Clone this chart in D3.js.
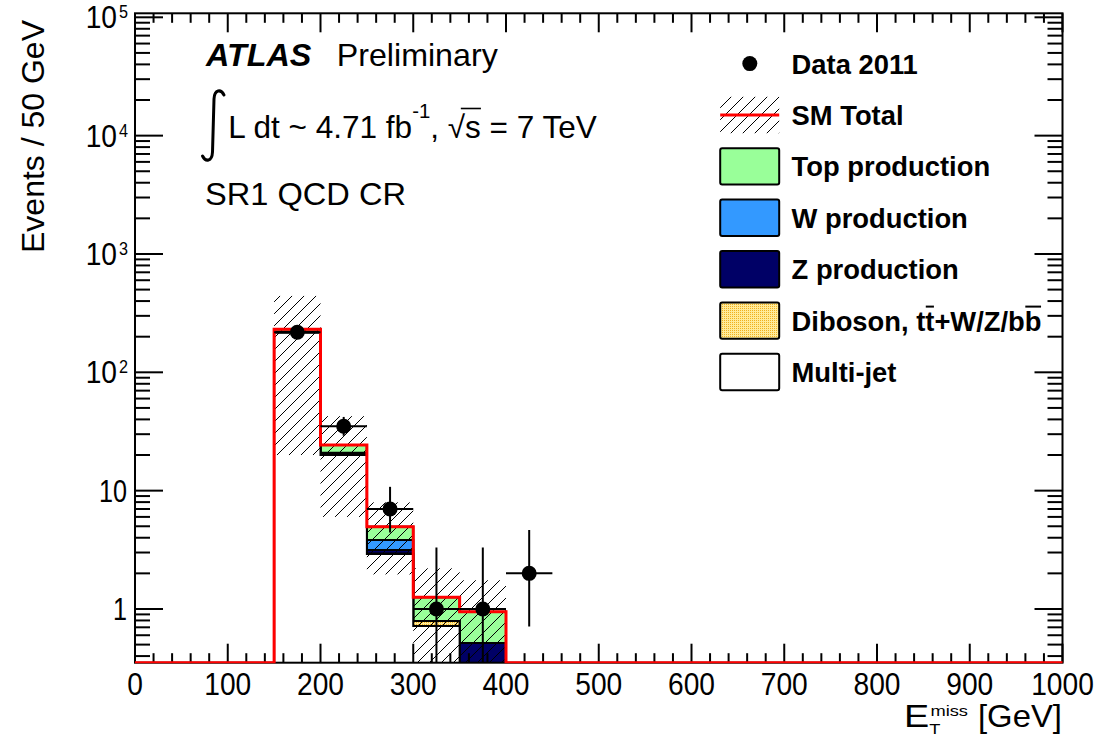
<!DOCTYPE html>
<html>
<head>
<meta charset="utf-8">
<script src="https://cdn.jsdelivr.net/npm/d3@7"></script>
<style>
  body { margin: 0; background: #fff; }
  text { font-family: "Liberation Sans", Arial, Helvetica, sans-serif; fill: #000; }
</style>
</head>
<body>
<svg id="chart" width="1101" height="738"></svg>
<script>
// ---- histogram content: 20 bins of 50 GeV from 0 to 1000 GeV ----
const binLow = [0,50,100,150,200,250,300,350,400,450,500,550,600,650,700,750,800,850,900,950];
const binWidth = 50;

// stacked backgrounds (events per bin)
const multiJet = [0,0,0,216,20.0,2.92,0.718,0,0,0,0,0,0,0,0,0,0,0,0,0];
const diboson  = [0,0,0,1.0,0.1,0.03,0.074,0,0,0,0,0,0,0,0,0,0,0,0,0];
const zProd    = [0,0,0,1.5,0.3,0.20,0,0.516,0,0,0,0,0,0,0,0,0,0,0,0];
const wProd    = [0,0,0,1.5,0.5,0.68,0,0,0,0,0,0,0,0,0,0,0,0,0,0];
const topProd  = [0,0,0,11,3.4,1.13,0.464,0.433,0,0,0,0,0,0,0,0,0,0,0,0];
// uncertainty on the SM total
const smErr    = [0,0,0,211,18.3,3.0,0.95,0.8,0,0,0,0,0,0,0,0,0,0,0,0];

// data with Poisson uncertainties
const dataCounts = [0,0,0,218,35,7,1,1,2,0,0,0,0,0,0,0,0,0,0,0];
const dataErrHi  = [0,0,0,14.8,6.97,3.77,2.30,2.30,2.64,0,0,0,0,0,0,0,0,0,0,0];
const dataErrLo  = [0,0,0,14.8,5.89,2.58,0.83,0.83,1.29,0,0,0,0,0,0,0,0,0,0,0];

// axes
const xTickValues = [0,100,200,300,400,500,600,700,800,900,1000];
const xTickLabels = ["0","100","200","300","400","500","600","700","800","900","1000"];
const yTickValues = [1,10,100,1000,10000,100000];
const yTickBase   = ["1","10","10","10","10","10"];
const yTickExp    = ["","","2","3","4","5"];

// legend
const legendLabels = ["Data 2011","SM Total","Top production","W production","Z production","Diboson, tt+W/Z/bb","Multi-jet"];

// ---- layout ----
const X0 = 135, X1 = 1062.5, YT = 13.3, YB = 662.7;
const x = d3.scaleLinear().domain([0, 1000]).range([X0, X1]);
const y = d3.scaleLog().domain([0.3516, 108100]).range([YB, YT]);

const colTop = "#99ff99", colW = "#3399ff", colZ = "#000066";

const svg = d3.select("#chart");
const defs = svg.append("defs");

const hatch = defs.append("pattern").attr("id", "hatch")
  .attr("patternUnits", "userSpaceOnUse").attr("width", 12).attr("height", 12);
hatch.append("path").attr("d", "M0,12L12,0M-3,3L3,-3M9,15L15,9")
  .attr("stroke", "#000").attr("stroke-width", 1);

const dots = defs.append("pattern").attr("id", "dots")
  .attr("patternUnits", "userSpaceOnUse").attr("width", 2).attr("height", 2);
dots.append("rect").attr("width", 2).attr("height", 2).attr("fill", "#ffeb99");
dots.append("rect").attr("width", 1).attr("height", 1).attr("fill", "#f0b020");

defs.append("clipPath").attr("id", "plotClip").append("rect")
  .attr("x", X0).attr("y", YT).attr("width", X1 - X0).attr("height", YB - YT);
defs.append("clipPath").attr("id", "lineClip").append("rect")
  .attr("x", X0 - 3).attr("y", YT).attr("width", X1 - X0 + 6).attr("height", YB - YT + 0.6);

svg.append("rect").attr("width", 1101).attr("height", 738).attr("fill", "#fff");

// ---- stacked histograms ----
const cum1 = multiJet.slice();
const cum2 = cum1.map((v, i) => v + diboson[i]);
const cum3 = cum2.map((v, i) => v + zProd[i]);
const cum4 = cum3.map((v, i) => v + wProd[i]);
const total = cum4.map((v, i) => v + topProd[i]);

function yc(v, floor) { return v > 0 ? Math.min(y(v), floor) : floor; }

function stepArea(vals) {
  const p = d3.path();
  const fl = YB + 3;
  p.moveTo(x(0), fl);
  vals.forEach((v, i) => {
    const yy = yc(v, fl);
    p.lineTo(x(binLow[i]), yy);
    p.lineTo(x(binLow[i] + binWidth), yy);
  });
  p.lineTo(x(1000), fl);
  p.closePath();
  return p.toString();
}
function stepLine(vals) {
  const p = d3.path();
  p.moveTo(x(0), yc(vals[0], YB));
  vals.forEach((v, i) => {
    const yy = yc(v, YB);
    p.lineTo(x(binLow[i]), yy);
    p.lineTo(x(binLow[i] + binWidth), yy);
  });
  return p.toString();
}

const plot = svg.append("g").attr("clip-path", "url(#plotClip)");
[[total, colTop], [cum4, colW], [cum3, colZ], [cum2, "url(#dots)"], [cum1, "#ffffff"]]
  .forEach(([vals, fill]) => {
    plot.append("path").attr("d", stepArea(vals))
      .attr("fill", fill).attr("stroke", "#000").attr("stroke-width", 2)
      .attr("stroke-linejoin", "miter");
  });

// uncertainty band
plot.selectAll("rect.band").data(binLow.map((b, i) => i).filter(i => smErr[i] > 0))
  .join("rect").attr("class", "band")
  .attr("x", i => x(binLow[i]))
  .attr("width", i => x(binLow[i] + binWidth) - x(binLow[i]))
  .attr("y", i => y(total[i] + smErr[i]))
  .attr("height", i => yc(total[i] - smErr[i], YB + 3) - y(total[i] + smErr[i]))
  .attr("fill", "url(#hatch)");

// ---- frame and ticks ----
const axes = svg.append("g").attr("stroke", "#000").attr("stroke-width", 2).attr("fill", "none");
const xMinor = d3.range(0, 1001, 20).filter(v => v % 100 !== 0);
xTickValues.forEach(v => {
  axes.append("line").attr("x1", x(v)).attr("x2", x(v)).attr("y1", YB).attr("y2", YB - 19);
  axes.append("line").attr("x1", x(v)).attr("x2", x(v)).attr("y1", YT).attr("y2", YT + 19);
});
xMinor.forEach(v => {
  axes.append("line").attr("x1", x(v)).attr("x2", x(v)).attr("y1", YB).attr("y2", YB - 9.5);
  axes.append("line").attr("x1", x(v)).attr("x2", x(v)).attr("y1", YT).attr("y2", YT + 9.5);
});
const yMinor = [];
[0.1, 1, 10, 100, 1000, 10000, 100000].forEach(d => {
  for (let k = 2; k <= 9; k++) {
    const v = k * d;
    if (v > y.domain()[0] && v < y.domain()[1]) yMinor.push(v);
  }
});
yTickValues.forEach(v => {
  axes.append("line").attr("x1", X0).attr("x2", X0 + 28).attr("y1", y(v)).attr("y2", y(v));
  axes.append("line").attr("x1", X1).attr("x2", X1 - 28).attr("y1", y(v)).attr("y2", y(v));
});
yMinor.forEach(v => {
  axes.append("line").attr("x1", X0).attr("x2", X0 + 15).attr("y1", y(v)).attr("y2", y(v));
  axes.append("line").attr("x1", X1).attr("x2", X1 - 15).attr("y1", y(v)).attr("y2", y(v));
});
axes.append("rect").attr("x", X0).attr("y", YT).attr("width", X1 - X0).attr("height", YB - YT);

// SM total line
svg.append("path").attr("d", stepLine(total)).attr("clip-path", "url(#lineClip)")
  .attr("fill", "none").attr("stroke", "#ff0000").attr("stroke-width", 3);

// ---- data ----
const dataIdx = binLow.map((b, i) => i).filter(i => dataCounts[i] > 0);
const dat = svg.append("g").attr("clip-path", "url(#plotClip)");
dataIdx.forEach(i => {
  const cx = x(binLow[i] + binWidth / 2), cy = y(dataCounts[i]);
  dat.append("line").attr("x1", x(binLow[i])).attr("x2", x(binLow[i] + binWidth))
    .attr("y1", cy).attr("y2", cy).attr("stroke", "#000").attr("stroke-width", 2);
  dat.append("line").attr("x1", cx).attr("x2", cx)
    .attr("y1", y(dataCounts[i] + dataErrHi[i]))
    .attr("y2", yc(dataCounts[i] - dataErrLo[i], YB + 3))
    .attr("stroke", "#000").attr("stroke-width", 2);
  dat.append("circle").attr("cx", cx).attr("cy", cy).attr("r", 7.5).attr("fill", "#000");
});

// ---- text helpers ----
function fitX(g, left, right) {
  const b = g.node().getBBox();
  const k = (right - left) / b.width;
  g.attr("transform", `translate(${left},0) scale(${k},1) translate(${-b.x},0)`);
  return k;
}
function widthOf(str, size, weight) {
  const t = svg.append("text").attr("font-size", size).attr("font-weight", weight || "normal").text(str);
  const w = t.node().getBBox().width;
  t.remove();
  return w;
}

// x tick labels
const sxX = 47 / widthOf("100", 32);
xTickValues.forEach((v, i) => {
  const cx = x(v);
  svg.append("text").attr("x", cx).attr("y", 695).attr("font-size", 32)
    .attr("text-anchor", "middle")
    .attr("transform", `translate(${cx},0) scale(${sxX},1) translate(${-cx},0)`)
    .text(xTickLabels[i]);
});

// y tick labels
const sxY = 28 / widthOf("10", 31);
yTickValues.forEach((v, i) => {
  const ty = y(v);
  if (yTickExp[i] === "") {
    svg.append("text").attr("x", 127).attr("y", ty + 11).attr("font-size", 31)
      .attr("text-anchor", "end")
      .attr("transform", `translate(127,0) scale(${sxY},1) translate(-127,0)`)
      .text(yTickBase[i]);
  } else {
    svg.append("text").attr("x", 117).attr("y", ty + 11).attr("font-size", 31)
      .attr("text-anchor", "end")
      .attr("transform", `translate(117,0) scale(${sxY * 1.12},1) translate(-117,0)`)
      .text(yTickBase[i]);
    svg.append("text").attr("x", 119).attr("y", ty + 1).attr("font-size", 19)
      .attr("transform", `translate(119,0) scale(${sxY * 1.05},1) translate(-119,0)`)
      .text(yTickExp[i]);
  }
});

// axis titles
const yt = svg.append("g").attr("transform", "translate(44,253) rotate(-90)");
yt.append("text").attr("x", 0).attr("y", 0).attr("font-size", 31)
  .attr("textLength", 233).attr("lengthAdjust", "spacingAndGlyphs").text("Events / 50 GeV");

let g;
// E_T^miss: E, subscript T, superscript "miss" stacked over the T
g = svg.append("g");
{
  const wT = widthOf("T", 15);
  const et = g.append("text").attr("x", 0).attr("y", 727).attr("font-size", 31);
  et.append("tspan").text("E");
  et.append("tspan").attr("font-size", 15).attr("dy", 7.5).text("T");
  et.append("tspan").attr("font-size", 15).attr("dy", -18.5).attr("dx", -wT + 1).text("miss");
}
fitX(g, 904, 968);
g = svg.append("g"); g.append("text").attr("x", 0).attr("y", 727).attr("font-size", 31).text("[GeV]"); fitX(g, 978, 1062);

// ---- labels in the upper left ----
g = svg.append("g"); g.append("text").attr("x", 0).attr("y", 66).attr("font-size", 31)
  .attr("font-weight", "bold").attr("font-style", "italic").text("ATLAS");
fitX(g, 205, 311.7);
g = svg.append("g"); g.append("text").attr("x", 0).attr("y", 66).attr("font-size", 31).text("Preliminary");
fitX(g, 336.7, 498.3);

// integral sign
svg.append("path")
  .attr("d", "M224,95 C221,89 214.5,89 214,99 L212.5,152 C212,162 205.5,162 202.5,156")
  .attr("fill", "none").attr("stroke", "#000").attr("stroke-width", 3).attr("stroke-linecap", "round");

g = svg.append("g");
const lumi = g.append("text").attr("x", 0).attr("y", 138.3).attr("font-size", 31);
lumi.append("tspan").text("L dt ~ 4.71 fb");
lumi.append("tspan").attr("font-size", 20).attr("dy", -20).text("-1");
lumi.append("tspan").attr("dy", 20).text(", \u221As = 7 TeV");
{
  const n = lumi.node();
  const full = "L dt ~ 4.71 fb-1, \u221As = 7 TeV";
  const iS = full.indexOf("\u221A") + 1;
  const xs0 = n.getStartPositionOfChar(iS - 1).x + n.getExtentOfChar(iS - 1).width * 0.75;
  const xs1 = n.getEndPositionOfChar(iS).x;
  g.append("line").attr("x1", xs0).attr("x2", xs1).attr("y1", 108.5).attr("y2", 108.5)
    .attr("stroke", "#000").attr("stroke-width", 1.6);
}
fitX(g, 228.3, 597.3);

g = svg.append("g"); g.append("text").attr("x", 0).attr("y", 205).attr("font-size", 31).text("SR1 QCD CR");
fitX(g, 205, 406);

// ---- legend ----
const LX = 720.2, LW = 59, LH = 36.4, TX = 791.6;
const rowY = i => 63.6 + 51.4 * i;
const sxL = 198.6 / widthOf("Top production", 28, "bold");

legendLabels.forEach((lab, i) => {
  const cy = rowY(i);
  const lg = svg.append("g").attr("transform", `translate(${TX},0) scale(${sxL},1) translate(${-TX},0)`);
  const t = lg.append("text").attr("x", TX).attr("y", cy + 10).attr("font-size", 28)
    .attr("font-weight", "bold").text(lab);
  if (i === 5) {
    const n = t.node();
    [10, 17].forEach(ci => {
      const a = n.getStartPositionOfChar(ci).x, b = n.getEndPositionOfChar(ci).x;
      lg.append("line").attr("x1", a + 0.5).attr("x2", b - 0.5)
        .attr("y1", cy - 14).attr("y2", cy - 14).attr("stroke", "#000").attr("stroke-width", 2);
    });
  }
});
// markers / swatches
svg.append("circle").attr("cx", 749.8).attr("cy", rowY(0)).attr("r", 7.5).attr("fill", "#000");
svg.append("rect").attr("x", LX).attr("y", rowY(1) - LH / 2).attr("width", LW).attr("height", LH)
  .attr("fill", "url(#hatch)");
svg.append("line").attr("x1", LX).attr("x2", LX + LW).attr("y1", rowY(1)).attr("y2", rowY(1))
  .attr("stroke", "#ff0000").attr("stroke-width", 3);
[[2, colTop], [3, colW], [4, colZ], [5, "url(#dots)"], [6, "#ffffff"]].forEach(([i, fill]) => {
  svg.append("rect").attr("x", LX).attr("y", rowY(i) - LH / 2).attr("width", LW).attr("height", LH)
    .attr("rx", 2).attr("fill", fill).attr("stroke", "#000").attr("stroke-width", 2);
});
</script>
</body>
</html>
